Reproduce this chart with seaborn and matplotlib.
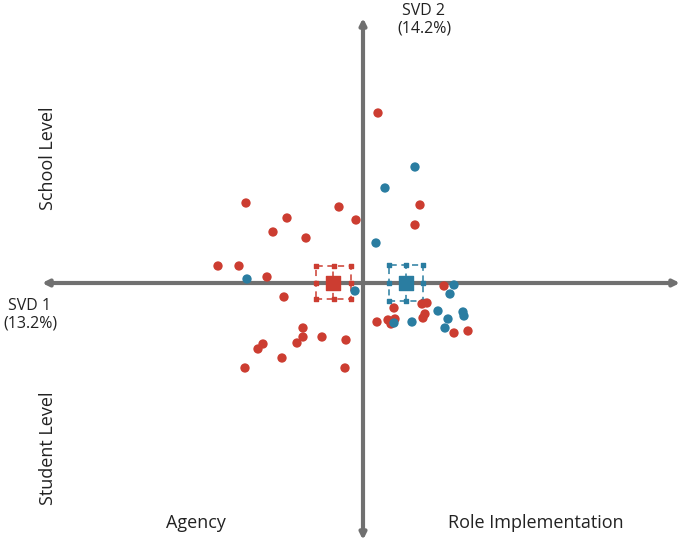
import pandas as pd
import seaborn as sns
import matplotlib.pyplot as plt
from matplotlib.patches import Rectangle

# SVD scores (x = SVD 1, y = SVD 2)
red_x = [0.15, -1.17, -0.76, -0.24, -0.07, -0.90, -0.57, 0.57, 0.52, -1.45,
         -1.24, -0.96, -0.79, 0.81, 0.31, 0.14, 0.25, 0.32, 0.28, 0.59,
         0.64, 0.60, 0.62, 0.91, 1.05, -0.60, -1.00, -1.05, -0.60, -0.66,
         -0.41, -0.17, -0.81, -1.18, -0.18]
red_y = [1.70, 0.80, 0.65, 0.76, 0.63, 0.51, 0.45, 0.78, 0.58, 0.17,
         0.17, 0.06, -0.14, -0.03, -0.25, -0.39, -0.37, -0.36, -0.41, -0.21,
         -0.20, -0.35, -0.31, -0.50, -0.48, -0.45, -0.61, -0.66, -0.54, -0.60,
         -0.54, -0.57, -0.75, -0.85, -0.85]
blue_x = [0.52, 0.22, 0.13, -1.16, -0.08, 0.91, 0.87, 0.75, 1.00, 1.01,
          0.85, 0.82, 0.49, 0.31]
blue_y = [1.16, 0.95, 0.40, 0.04, -0.08, -0.02, -0.11, -0.28, -0.29, -0.33,
          -0.36, -0.45, -0.39, -0.40]

# group centroids and the spread boxes around them
groups = ["red", "blue"]
mean_x = [-0.30, 0.43]
mean_y = [0.0, 0.0]
box_x = [(-0.47, -0.12), (0.26, 0.60)]
box_y = [(-0.16, 0.17), (-0.18, 0.18)]

colors = {"red": "#cc3d31", "blue": "#2a7da1"}

df = pd.DataFrame({
    "x": red_x + blue_x,
    "y": red_y + blue_y,
    "group": ["red"] * len(red_x) + ["blue"] * len(blue_x),
})

sns.set_style("white")
plt.rcParams['font.family'] = ['Open Sans', 'DejaVu Sans']

fig = plt.figure(figsize=(6.85, 5.48), dpi=100)
ax = fig.add_axes([0, 0, 1, 1])
ax.set_xlim(-3.63, 3.22)
ax.set_ylim(-2.65, 2.83)
ax.axis("off")

# double headed axis arrows
axis_col = "#707070"
ax.annotate("", xy=(3.17, 0), xytext=(-3.21, 0),
            arrowprops=dict(arrowstyle="<|-|>", color=axis_col, lw=3, mutation_scale=9,
                            shrinkA=0, shrinkB=0), zorder=1)
ax.annotate("", xy=(0, 2.65), xytext=(0, -2.57),
            arrowprops=dict(arrowstyle="<|-|>", color=axis_col, lw=3, mutation_scale=9,
                            shrinkA=0, shrinkB=0), zorder=1)

# the points
sns.scatterplot(data=df, x="x", y="y", hue="group", palette=colors, s=45,
                edgecolor="none", legend=False, ax=ax, zorder=3)

# centroids with dashed spread boxes
for i, g in enumerate(groups):
    c = colors[g]
    x0, x1 = box_x[i]
    y0, y1 = box_y[i]
    ax.add_patch(Rectangle((x0, y0), x1 - x0, y1 - y0, fill=False, edgecolor=c,
                           lw=1.1, ls=(0, (4, 3)), zorder=2))
    ax.plot([mean_x[i], mean_x[i]], [y0, y1], color=c, lw=1.1, ls=(0, (4, 3)), zorder=2)
    mx = [x0, (x0 + x1) / 2, x1, x0, x1, x0, (x0 + x1) / 2, x1]
    my = [y0, y0, y0, mean_y[i], mean_y[i], y1, y1, y1]
    ax.scatter(mx, my, marker="s", s=6, color=c, zorder=2)
    ax.scatter([mean_x[i]], [mean_y[i]], marker="s", s=95, color=c, zorder=4)

# labels
txt = dict(color="#222222", ha="center", va="center")
ax.text(0.61, 2.63, "SVD 2\n(14.2%)", fontsize=11.5, linespacing=1.1, **txt)
ax.text(-3.33, -0.32, "SVD 1\n(13.2%)", fontsize=11.5, linespacing=1.1, **txt)
ax.text(-3.15, 1.25, "School Level", rotation=90, fontsize=13, **txt)
ax.text(-3.15, -1.65, "Student Level", rotation=90, fontsize=13, **txt)
ax.text(-1.67, -2.40, "Agency", fontsize=13, **txt)
ax.text(1.73, -2.40, "Role Implementation", fontsize=13, **txt)

fig.savefig("out.png", dpi=100)
